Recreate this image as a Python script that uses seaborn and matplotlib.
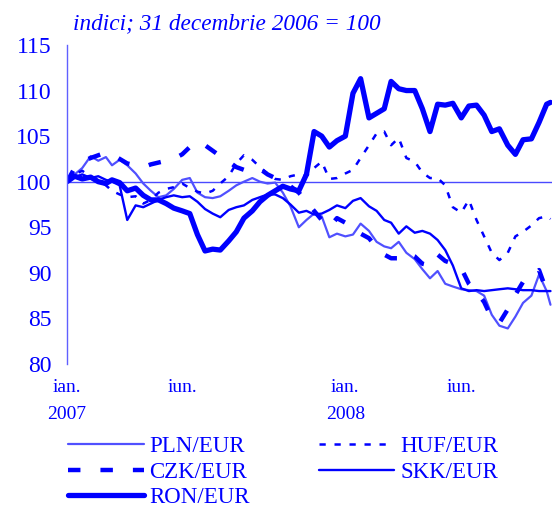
import pandas as pd
import matplotlib
matplotlib.use('Agg')
import matplotlib.pyplot as plt
import seaborn as sns

# date points: 1st, 11th, 21st of every month, plus the last day shown
months = pd.date_range("2007-01-01", "2008-09-01", freq="MS")
dates = [m + pd.Timedelta(days=d) for m in months for d in (0, 10, 20)] + [pd.Timestamp("2008-09-26")]

# indici; 31 decembrie 2006 = 100
pln = [100.0, 100.8, 101.5, 102.8, 102.3, 102.7, 101.8, 102.4, 101.8,
       100.9, 99.8, 99.0, 98.3, 98.5, 99.2, 100.2, 100.4, 98.8,
       98.3, 98.2, 98.4, 99.0, 99.6, 100.0, 100.4, 100.0, 99.8,
       99.9, 98.8, 97.3, 95.0, 95.8, 96.5, 96.2, 93.9, 94.3,
       94.0, 94.2, 95.4, 94.6, 93.4, 92.9, 92.7, 93.4, 92.2,
       91.5, 90.4, 89.4, 90.2, 88.8, 88.5, 88.2, 88.1, 88.0,
       87.5, 85.4, 84.2, 83.9, 85.2, 86.7, 87.5, 89.8, 88.0, 86.5]
huf = [100.0, 100.8, 101.2, 100.5, 100.2, 99.6, 99.0, 98.6, 98.3,
       98.4, 97.6, 98.0, 98.8, 99.2, 99.4, 99.8, 99.3, 98.9,
       98.7, 99.0, 99.8, 100.6, 102.0, 102.9, 102.4, 101.6, 100.9,
       100.3, 100.2, 100.6, 100.8, 100.6, 101.5, 102.2, 100.3, 100.4,
       100.9, 101.3, 102.6, 104.0, 105.3, 105.5, 104.0, 104.8, 102.6,
       102.2, 101.0, 100.4, 100.4, 99.6, 97.2, 96.6, 98.0, 95.8,
       94.0, 92.2, 91.4, 92.2, 94.0, 94.5, 95.2, 96.0, 96.2, 95.9]
czk = [100.0, 101.5, 102.2, 102.6, 102.9, 103.2, 103.0, 102.5, 102.0,
       101.8, 101.6, 101.9, 102.1, 102.3, 102.5, 103.0, 103.8, 104.4,
       104.0, 103.4, 102.8, 102.2, 101.6, 101.3, 101.1, 101.4, 100.8,
       100.4, 100.0, 99.5, 98.8, 97.8, 96.8, 95.8, 95.0, 96.0,
       95.5, 94.8, 94.3, 93.8, 92.8, 92.0, 91.6, 91.6, 92.2,
       91.8, 91.0, 90.8, 92.0, 91.3, 91.0, 90.5, 88.8, 87.9,
       86.8, 85.0, 84.5, 86.0, 87.6, 89.0, 89.5, 90.3, 88.0, 87.8]
skk = [100.0, 100.5, 100.8, 100.4, 100.6, 100.2, 100.0, 99.6, 95.8,
       97.4, 97.2, 97.6, 98.0, 98.3, 98.5, 98.3, 98.4, 97.8,
       97.0, 96.5, 96.1, 96.9, 97.2, 97.4, 98.0, 98.3, 98.6,
       98.6, 98.2, 97.5, 96.6, 96.8, 96.4, 96.5, 96.9, 97.4,
       97.1, 97.9, 98.2, 97.3, 96.8, 95.8, 95.5, 94.3, 95.1,
       94.4, 94.6, 94.3, 93.6, 92.5, 90.8, 88.3, 88.0, 88.1,
       88.0, 88.1, 88.2, 88.3, 88.2, 88.1, 88.1, 88.0, 88.0, 88.0]
ron = [100.0, 100.6, 100.3, 100.5, 100.0, 99.8, 100.2, 99.9, 99.0,
       99.3, 98.5, 98.0, 98.0, 97.6, 97.1, 96.8, 96.5, 94.2,
       92.4, 92.6, 92.5, 93.5, 94.5, 96.0, 96.8, 97.8, 98.5,
       99.0, 99.5, 99.2, 99.0, 100.8, 105.5, 105.0, 103.8, 104.5,
       105.0, 109.7, 111.3, 107.0, 107.5, 108.0, 111.0, 110.2, 110.0,
       110.0, 108.0, 105.5, 108.5, 108.4, 108.6, 107.0, 108.3, 108.4,
       107.3, 105.5, 105.8, 104.0, 103.0, 104.6, 104.7, 106.5, 108.5, 108.7]

blue = "#0000ff"
sns.set_style("white")
plt.rcParams["font.family"] = ["Liberation Serif", "DejaVu Serif"]

fig = plt.figure(figsize=(5.52, 5.11), dpi=100)
ax = fig.add_axes([0.1214, 0.2877, 0.8786, 0.6243])

ax.axhline(100, color="#4a4aff", lw=1.0, zorder=1)

sns.lineplot(x=dates, y=pln, ax=ax, color="#5050ff", lw=1.6, label="PLN/EUR")
sns.lineplot(x=dates, y=czk, ax=ax, color=blue, lw=3.2, linestyle=(0, (2.8, 4.5)), label="CZK/EUR")
sns.lineplot(x=dates, y=ron, ax=ax, color=blue, lw=3.8, label="RON/EUR")
sns.lineplot(x=dates, y=huf, ax=ax, color=blue, lw=1.8, linestyle=(0, (2.5, 3.5)), label="HUF/EUR")
sns.lineplot(x=dates, y=skk, ax=ax, color=blue, lw=1.7, label="SKK/EUR")

ax.set_ylim(80, 115)
ax.set_yticks(range(80, 116, 5))
ax.set_xlim(pd.Timestamp("2007-01-01"), pd.Timestamp("2008-09-28"))
ax.set_xticks(pd.to_datetime(["2007-01-01", "2007-06-01", "2008-01-01", "2008-06-01"]))
ax.set_xticklabels(["ian.\n2007", "iun.", "ian.\n2008", "iun."], linespacing=1.75)
ax.set_xlabel("")
ax.set_ylabel("")

for s in ["top", "right", "bottom"]:
    ax.spines[s].set_visible(False)
ax.spines["left"].set_color("#6060ff")
ax.spines["left"].set_linewidth(1.0)
ax.tick_params(axis="y", direction="out", length=5, width=1, color="#6060ff",
               labelsize=17, labelcolor=blue, pad=6)
ax.tick_params(axis="x", length=0, labelsize=14, labelcolor=blue, pad=11)

handles, labels = ax.get_legend_handles_labels()
ax.get_legend().remove()
fig.legend(handles, labels, ncol=2, loc="upper left", bbox_to_anchor=(0.123, 0.147),
           frameon=False, fontsize=16.5, labelcolor=blue, handlelength=3.3,
           handletextpad=0.26, columnspacing=3.0, labelspacing=0.2,
           borderpad=0, borderaxespad=0)

fig.text(0.132, 0.943, "indici; 31 decembrie 2006 = 100", color=blue,
         fontsize=16.75, style="italic", va="baseline")

fig.savefig("out.png", dpi=100)
